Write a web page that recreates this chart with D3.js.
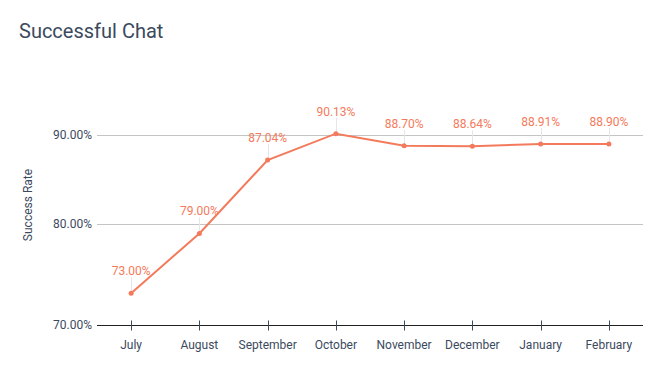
<!DOCTYPE html>
<html>
<head>
<meta charset="utf-8">
<script src="https://cdn.jsdelivr.net/npm/d3@7"></script>
<style>
  body { margin: 0; background: #fff; }
  svg { display: block; font-family: Roboto, "Noto Sans", sans-serif; }
</style>
</head>
<body>
<div class="container-chat"></div>
<script>
const months = ['July', 'August', 'September', 'October', 'November', 'December', 'January', 'February'];
const successRates = [73.00, 79.00, 87.04, 90.13, 88.70, 88.64, 88.91, 88.90];
const yTicks = [70, 80, 90];

const width = 662;
const height = 371;
const margin = { top: 55, right: 19, bottom: 46, left: 97 };
const lineColor = '#f47a5c';
const textColor = '#3c4a5e';

const svg = d3.select('.container-chat')
  .append('svg')
  .attr('width', width)
  .attr('height', height);

svg.append('text')
  .attr('x', 19)
  .attr('y', 38)
  .attr('font-size', 20)
  .attr('fill', textColor)
  .text('Successful Chat');

const scaleX = d3.scalePoint()
  .domain(months)
  .range([margin.left, width - margin.right])
  .padding(0.5);

const scaleY = d3.scaleLog()
  .domain([70, 100])
  .range([height - margin.bottom, margin.top]);

// gridlines
svg.append('g')
  .selectAll('line')
  .data(yTicks.slice(1))
  .enter()
  .append('line')
  .attr('x1', margin.left)
  .attr('x2', width - margin.right)
  .attr('y1', d => Math.round(scaleY(d)) + 0.5)
  .attr('y2', d => Math.round(scaleY(d)) + 0.5)
  .attr('stroke', '#c4c4c4');

// y labels
svg.append('g')
  .selectAll('text')
  .data(yTicks)
  .enter()
  .append('text')
  .attr('x', margin.left - 5)
  .attr('y', d => scaleY(d) + 4)
  .attr('text-anchor', 'end')
  .attr('font-size', 12)
  .attr('fill', textColor)
  .text(d => d3.format('.2f')(d) + '%');

svg.append('text')
  .attr('transform', `translate(32, ${(margin.top + height - margin.bottom) / 2 + 15}) rotate(-90)`)
  .attr('text-anchor', 'middle')
  .attr('font-size', 12)
  .attr('fill', textColor)
  .text('Success Rate');

// x axis
const axisY0 = Math.round(scaleY(70)) + 0.5;
const groupAxisX = svg.append('g');
groupAxisX.append('line')
  .attr('x1', margin.left)
  .attr('x2', width - margin.right)
  .attr('y1', axisY0)
  .attr('y2', axisY0)
  .attr('stroke', '#222');

groupAxisX.selectAll('line.tick')
  .data(months)
  .enter()
  .append('line')
  .attr('class', 'tick')
  .attr('x1', d => Math.round(scaleX(d)) + 0.5)
  .attr('x2', d => Math.round(scaleX(d)) + 0.5)
  .attr('y1', axisY0 - 5)
  .attr('y2', axisY0 + 5)
  .attr('stroke', textColor);

groupAxisX.selectAll('text')
  .data(months)
  .enter()
  .append('text')
  .attr('x', d => scaleX(d))
  .attr('y', axisY0 + 23)
  .attr('text-anchor', 'middle')
  .attr('font-size', 12)
  .attr('fill', textColor)
  .text(d => d);

// leader lines
const points = months.map((m, i) => ({ month: m, value: successRates[i] }));

svg.append('g')
  .selectAll('line')
  .data(points)
  .enter()
  .append('line')
  .attr('x1', d => Math.round(scaleX(d.month)) + 0.5)
  .attr('x2', d => Math.round(scaleX(d.month)) + 0.5)
  .attr('y1', d => scaleY(d.value))
  .attr('y2', d => scaleY(d.value) - 16)
  .attr('stroke', '#e6e6e6');

const generatorLine = d3.line()
  .x(d => scaleX(d.month))
  .y(d => scaleY(d.value));

svg.append('path')
  .attr('d', generatorLine(points))
  .attr('fill', 'none')
  .attr('stroke', lineColor)
  .attr('stroke-width', 2);

svg.append('g')
  .selectAll('circle')
  .data(points)
  .enter()
  .append('circle')
  .attr('cx', d => scaleX(d.month))
  .attr('cy', d => scaleY(d.value))
  .attr('r', 2.5)
  .attr('fill', lineColor);

svg.append('g')
  .selectAll('text')
  .data(points)
  .enter()
  .append('text')
  .attr('x', d => scaleX(d.month))
  .attr('y', d => scaleY(d.value) - 18)
  .attr('text-anchor', 'middle')
  .attr('font-size', 12)
  .attr('fill', lineColor)
  .text(d => d3.format('.2f')(d.value) + '%');
</script>
</body>
</html>
